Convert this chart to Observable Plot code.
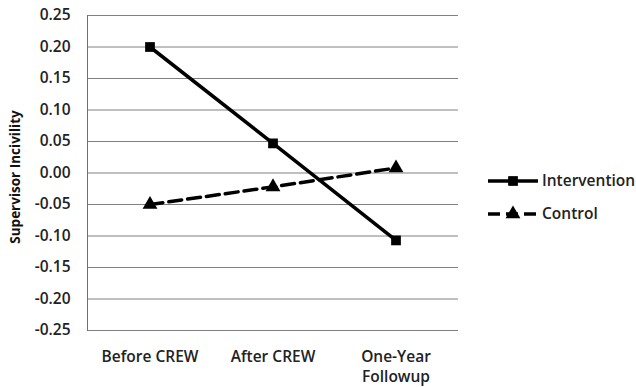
<!DOCTYPE html>
<html>
<head>
<meta charset="utf-8">
<script src="https://cdn.jsdelivr.net/npm/d3@7"></script>
<script src="https://cdn.jsdelivr.net/npm/@observablehq/plot@0.6"></script>
<style>
  body { margin: 0; background: #fff; }
  #wrap { position: relative; width: 636px; height: 387px; font-family: "Open Sans", sans-serif; }
  #legend { position: absolute; left: 0; top: 0; }
</style>
</head>
<body>
<div id="wrap"></div>
<script>
const phases = ["Before CREW", "After CREW", "One-Year\nFollowup"];
const intervention = [0.200, 0.047, -0.107];
const control = [-0.050, -0.022, 0.008];
const seriesNames = ["Intervention", "Control"];
const yTicks = [0.25, 0.20, 0.15, 0.10, 0.05, 0.00, -0.05, -0.10, -0.15, -0.20, -0.25];

const rows = [];
phases.forEach((p, i) => {
  rows.push({phase: p, value: intervention[i], series: seriesNames[0]});
  rows.push({phase: p, value: control[i], series: seriesNames[1]});
});
const intRows = rows.filter(d => d.series === seriesNames[0]);
const ctlRows = rows.filter(d => d.series === seriesNames[1]);

const chart = Plot.plot({
  width: 636,
  height: 387,
  marginLeft: 87,
  marginRight: 178,
  marginTop: 15,
  marginBottom: 57,
  style: {fontFamily: "Open Sans, sans-serif", fontSize: "15px", color: "#222", background: "#fff"},
  x: {type: "band", domain: phases, padding: 0, label: null},
  y: {domain: [-0.25, 0.25], label: null},
  marks: [
    Plot.gridY(yTicks, {stroke: "#808080", strokeOpacity: 1, strokeWidth: 1}),
    Plot.frame({anchor: "left", stroke: "#707070", strokeWidth: 1}),
    Plot.axisY(yTicks, {tickSize: 0, tickPadding: 17, tickFormat: d => d3.format(".2f")(d).replace("−", "-"), fontWeight: 600, fontSize: 15.5, label: null}),
    Plot.axisX({tickSize: 0, tickPadding: 17, fontWeight: 600, fontSize: 15.5, lineHeight: 1.3, label: null}),
    Plot.text(["Supervisor Incivility"], {frameAnchor: "left", textAnchor: "middle", dx: -72, dy: 4, rotate: -90, fontWeight: 700, fontSize: 13.5, fill: "#111"}),
    Plot.line(intRows, {x: "phase", y: "value", stroke: "#000", strokeWidth: 3.5}),
    Plot.line(ctlRows, {x: "phase", y: "value", stroke: "#000", strokeWidth: 3.5, strokeDasharray: "13,6"}),
    Plot.dot(intRows, {x: "phase", y: "value", symbol: "square", r: 5.5, fill: "#000"}),
    Plot.dot(ctlRows, {x: "phase", y: "value", symbol: "triangle", r: 5.5, fill: "#000"})
  ]
});

const wrap = document.getElementById("wrap");
wrap.appendChild(chart);

// legend
const leg = d3.select(wrap).append("svg").attr("id", "legend").attr("width", 636).attr("height", 387);
const items = [
  {name: seriesNames[0], y: 181, dash: null, sym: d3.symbolSquare},
  {name: seriesNames[1], y: 214, dash: "12,6", sym: d3.symbolTriangle}
];
items.forEach(it => {
  leg.append("line").attr("x1", 488).attr("x2", 538).attr("y1", it.y).attr("y2", it.y)
    .attr("stroke", "#000").attr("stroke-width", 3.5).attr("stroke-dasharray", it.dash);
  leg.append("path").attr("transform", `translate(513,${it.y})`)
    .attr("d", d3.symbol(it.sym, 95)()).attr("fill", "#000");
  leg.append("text").attr("x", 542).attr("y", it.y).attr("dy", "0.35em")
    .attr("font-family", "Open Sans, sans-serif").attr("font-size", 15.5).attr("font-weight", 600)
    .attr("fill", "#222").text(it.name);
});
</script>
</body>
</html>
